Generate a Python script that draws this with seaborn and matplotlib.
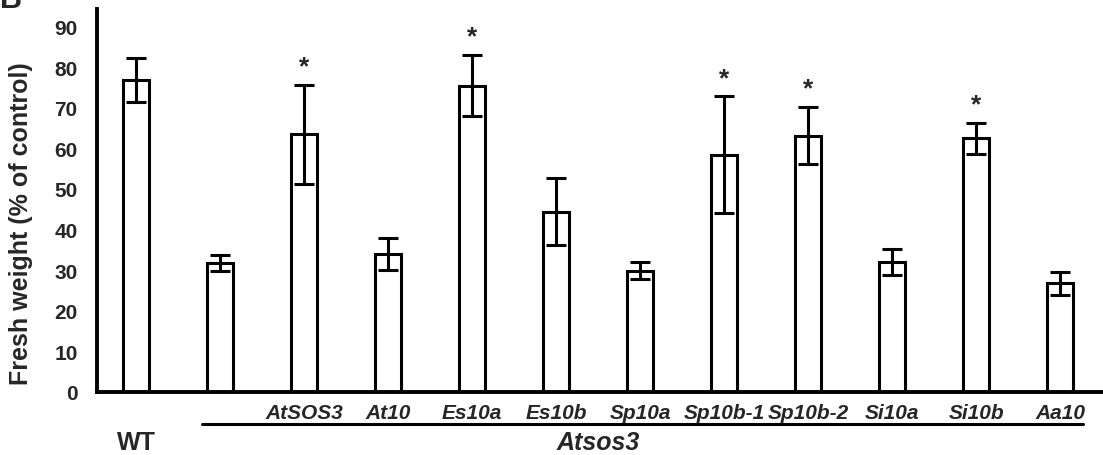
import numpy as np
import pandas as pd
import seaborn as sns
import matplotlib.pyplot as plt

# Fresh weight data
lines = ["WT", "Atsos3", "AtSOS3", "At10", "Es10a", "Es10b", "Sp10a",
         "Sp10b-1", "Sp10b-2", "Si10a", "Si10b", "Aa10"]
tick_labels = ["", "", "AtSOS3", "At10", "Es10a", "Es10b", "Sp10a",
               "Sp10b-1", "Sp10b-2", "Si10a", "Si10b", "Aa10"]
fresh_weight = [76.8, 31.7, 63.5, 34.0, 75.4, 44.4, 29.9, 58.4, 63.1, 31.9, 62.5, 26.8]
err = [5.4, 2.0, 12.2, 4.0, 7.5, 8.2, 2.2, 14.4, 7.0, 3.2, 3.8, 2.8]
significant = [False, False, True, False, True, False, False, True, True, False, True, False]

df = pd.DataFrame({"line": lines, "fw": fresh_weight, "err": err, "sig": significant})

sns.set_style("white")
plt.rcParams['font.family'] = ['Liberation Sans', 'DejaVu Sans']
plt.rcParams['font.weight'] = 'bold'

fig = plt.figure(figsize=(11.03, 4.56), dpi=100)
ax = fig.add_axes([97 / 1103, 1 - 393 / 456, 1 - 97 / 1103, (393 - 10) / 456])

sns.barplot(data=df, x="line", y="fw", ax=ax, width=0.31, color="white",
            edgecolor="black", linewidth=2.2, errorbar=None)
ax.errorbar(np.arange(len(df)), df["fw"], yerr=df["err"], fmt="none",
            ecolor="black", elinewidth=2.2, capsize=7.5, capthick=2.2)

for i, row in df.iterrows():
    if row["sig"]:
        ax.text(i, row["fw"] + row["err"] + 1.6, "*", ha="center", va="bottom",
                fontsize=19, fontweight="bold")

ax.set_xlim(-0.465, 11.51)
ax.set_ylim(0, 94.3)
ax.set_yticks(range(0, 100, 10))
ax.tick_params(axis="y", length=0, pad=14, labelsize=15)
ax.tick_params(axis="x", length=0, pad=8, labelsize=15)
ax.set_xticks(range(len(df)))
ax.set_xticklabels(tick_labels, fontstyle="italic", fontweight="bold")
for lbl in ax.get_yticklabels():
    lbl.set_fontweight("bold")
ax.set_xlabel("")
ax.set_ylabel("Fresh weight (% of control)", fontsize=18, fontweight="bold")
ax.yaxis.set_label_coords(-0.0636, 0.441)

for side in ["top", "right"]:
    ax.spines[side].set_visible(False)
for side in ["left", "bottom"]:
    ax.spines[side].set_linewidth(2.8)
    ax.spines[side].set_color("black")

# grouping line and labels under the axis
ax.plot([0.786, 11.27], [-7.9, -7.9], color="black", lw=2.2, clip_on=False)
ax.text(0, -12.4, "WT", ha="center", va="center", fontsize=18, fontweight="bold")
ax.text(5.5, -12.4, "Atsos3", ha="center", va="center", fontsize=18,
        fontweight="bold", fontstyle="italic")

# panel letter, cut at the top edge as in the source panel
fig.text(0.0, 1.0, "B", ha="left", va="center", fontsize=22, fontweight="bold")

fig.savefig("out.png", dpi=100)
